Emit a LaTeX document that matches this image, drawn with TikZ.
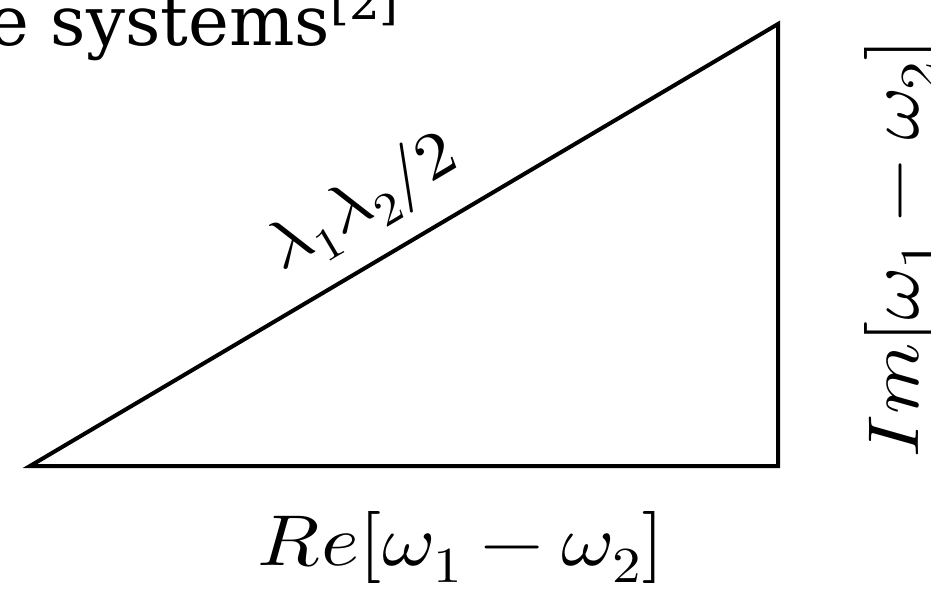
\documentclass[tikz,border=0pt]{standalone}
\usepackage{fontspec}
\usepackage{unicode-math}
\usepackage{graphicx}
\setmainfont{DejaVu Serif}
\setmathfont{Latin Modern Math}
\newcommand{\wide}[1]{\scalebox{1.13}[1]{#1}}
\begin{document}
\begin{tikzpicture}[x=1pt,y=-1pt,
  edge/.style={line width=4pt,line join=miter},
  lbl/.style={inner sep=0pt,font=\fontsize{72}{80}\selectfont}]
\useasboundingbox (0,0) rectangle (931,589);
\clip (0,0) rectangle (931,589);
\coordinate (A) at (30,466);
\coordinate (B) at (778,466);
\coordinate (C) at (778,24);
\draw[edge] (A) -- (B) -- (C) -- cycle;
\node[inner sep=0pt,anchor=base west,font=\fontsize{69}{75}\selectfont] (title) at (-12,45) {e systems\textsuperscript{[2]}};
\node[lbl,anchor=base] (re) at (461,565) {\wide{$Re[\omega_1-\omega_2]$}};
\node[lbl,anchor=base,rotate=90] (im) at (918,248) {\wide{$Im[\omega_1-\omega_2]$}};
\node[lbl,anchor=base,rotate=30.6,font=\fontsize{66}{70}\selectfont] (lam) at (372,218) {\scalebox{1.1}[1]{$\lambda_1\lambda_2/2$}};
\end{tikzpicture}
\end{document}
